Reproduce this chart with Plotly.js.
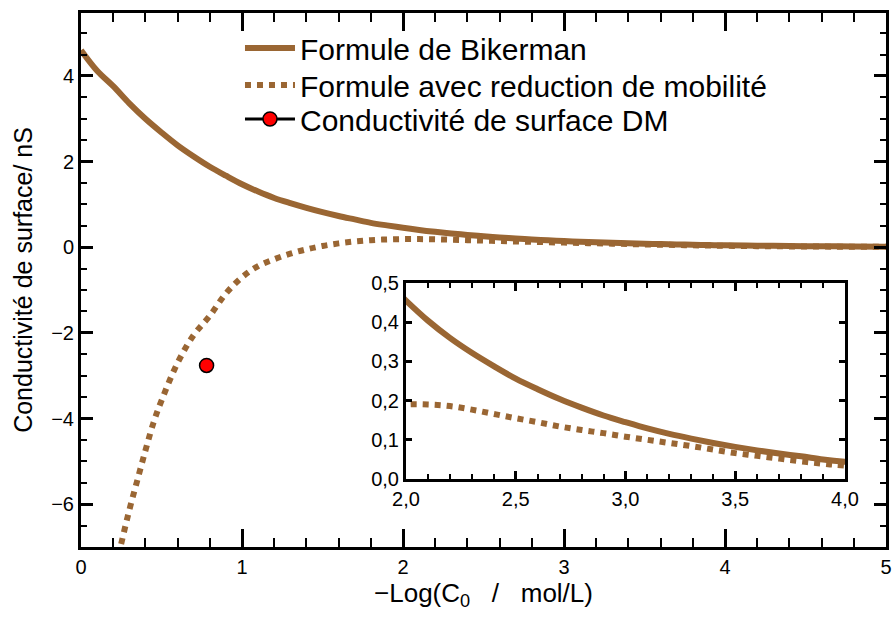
<!DOCTYPE html>
<html><head><meta charset="utf-8">
<script src="https://cdn.plot.ly/plotly-3.0.1.min.js"></script>
<style>html,body{margin:0;padding:0;background:#fff}#chart{width:893px;height:617px}</style>
</head><body><div id="chart"></div>
<script>
// Data
const bikermanX = [0.0,0.1,0.2,0.3,0.4,0.5,0.6,0.7,0.8,0.9,1.0,1.1,1.2,1.3,1.4,1.5,1.6,1.7,1.8,1.9,2.0,2.1,2.2,2.3,2.4,2.5,2.6,2.7,2.8,2.9,3.0,3.1,3.2,3.3,3.4,3.5,3.6,3.7,3.8,3.9,4.0,4.2,4.4,4.6,4.8,5.0];
const bikermanY = [4.60,4.12,3.76,3.36,3.00,2.68,2.38,2.12,1.88,1.67,1.47,1.30,1.15,1.03,0.92,0.82,0.73,0.65,0.57,0.51,0.455,0.404,0.360,0.322,0.288,0.256,0.229,0.204,0.182,0.162,0.145,0.129,0.115,0.103,0.092,0.082,0.073,0.065,0.058,0.050,0.044,0.036,0.029,0.023,0.018,0.014];
const reductionX = [0.20,0.25,0.30,0.35,0.40,0.45,0.50,0.60,0.70,0.80,0.90,1.0,1.1,1.2,1.3,1.4,1.5,1.6,1.7,1.8,1.9,2.0,2.1,2.2,2.3,2.4,2.5,2.6,2.7,2.8,2.9,3.0,3.1,3.2,3.3,3.4,3.5,3.6,3.7,3.8,3.9,4.0,4.2,4.4,4.6,4.8,5.0];
const reductionY = [-7.75,-6.92,-6.14,-5.44,-4.75,-4.10,-3.58,-2.70,-2.05,-1.60,-1.08,-0.70,-0.44,-0.28,-0.15,-0.05,0.03,0.09,0.135,0.165,0.183,0.190,0.190,0.186,0.177,0.166,0.155,0.145,0.134,0.125,0.117,0.108,0.100,0.092,0.084,0.075,0.066,0.059,0.052,0.045,0.039,0.034,0.026,0.020,0.015,0.012,0.010];
const dmX = [0.78];
const dmY = [-2.76];
const seriesNames = ['Formule de Bikerman', 'Formule avec reduction de mobilité', 'Conductivité de surface DM'];
const xTitle = '\u2212Log(C<sub>0</sub>\u00A0\u00A0\u00A0/\u00A0\u00A0\u00A0mol/L)';
const yTitle = 'Conductivité de surface/ nS';

const brown = '#9A6633';
const traces = [
  {x: bikermanX, y: bikermanY, xaxis: 'x', yaxis: 'y', mode: 'lines', name: seriesNames[0], legend: 'legend',
   line: {color: brown, width: 6, shape: 'spline'}},
  {x: reductionX, y: reductionY, xaxis: 'x', yaxis: 'y', mode: 'lines', name: seriesNames[1], legend: 'legend2',
   line: {color: brown, width: 6, dash: 'dot', shape: 'spline'}},
  {x: dmX, y: dmY, xaxis: 'x', yaxis: 'y', mode: 'lines+markers', name: seriesNames[2], legend: 'legend3',
   line: {color: 'black', width: 3},
   marker: {color: '#FF0000', size: 14, line: {color: 'black', width: 1.5}}},
  {x: bikermanX, y: bikermanY, xaxis: 'x2', yaxis: 'y2', mode: 'lines', showlegend: false,
   line: {color: brown, width: 6, shape: 'spline'}},
  {x: reductionX, y: reductionY, xaxis: 'x2', yaxis: 'y2', mode: 'lines', showlegend: false,
   line: {color: brown, width: 6, dash: 'dot', shape: 'spline'}}
];

const axBase = {showline: true, linecolor: 'black', mirror: 'allticks', ticks: 'inside',
  tickcolor: 'black', showgrid: false, zeroline: false, tickfont: {size: 20, color: 'black'}};
const legBase = {x: 0.1975, xanchor: 'left', yanchor: 'middle', bgcolor: 'rgba(0,0,0,0)',
  font: {size: 30}, itemwidth: 50};

const layout = {
  width: 893, height: 617,
  margin: {l: 81, r: 7, t: 13, b: 70},
  paper_bgcolor: 'white', plot_bgcolor: 'white',
  font: {family: 'Liberation Sans, Arial, sans-serif', color: 'black'},
  separators: ', ',
  showlegend: true,
  legend: Object.assign({}, legBase, {y: 0.9345}),
  legend2: Object.assign({}, legBase, {y: 0.8652}),
  legend3: Object.assign({}, legBase, {y: 0.8015}),
  xaxis: Object.assign({}, axBase, {range: [0, 5], domain: [0, 1], anchor: 'y',
    linewidth: 3, ticklen: 18, tickwidth: 3, dtick: 1,
    minor: {dtick: 0.2, ticklen: 9, tickwidth: 2, ticks: 'inside', tickcolor: 'black', showgrid: false},
    title: {text: xTitle, font: {size: 26}, standoff: 0}}),
  yaxis: Object.assign({}, axBase, {range: [-7.0, 5.47], domain: [0, 1], anchor: 'x',
    linewidth: 3, ticklen: 12, tickwidth: 3, dtick: 2,
    minor: {dtick: 0.5, ticklen: 6, tickwidth: 2, ticks: 'inside', tickcolor: 'black', showgrid: false},
    title: {text: yTitle, font: {size: 25}, standoff: 12}}),
  xaxis2: Object.assign({}, axBase, {range: [2, 4], domain: [0.4037, 0.949], anchor: 'y2',
    linewidth: 3, ticklen: 8, tickwidth: 3, dtick: 0.5, tickformat: '.1f',
    minor: {dtick: 0.1, ticklen: 5, tickwidth: 2, ticks: 'inside', tickcolor: 'black', showgrid: false}}),
  yaxis2: Object.assign({}, axBase, {range: [0, 0.5], domain: [0.1273, 0.4944], anchor: 'x2',
    linewidth: 3, ticklen: 6, tickwidth: 3, dtick: 0.1, tickformat: '.1f'})
};

Plotly.newPlot('chart', traces, layout, {displayModeBar: false});
</script>
</body></html>
